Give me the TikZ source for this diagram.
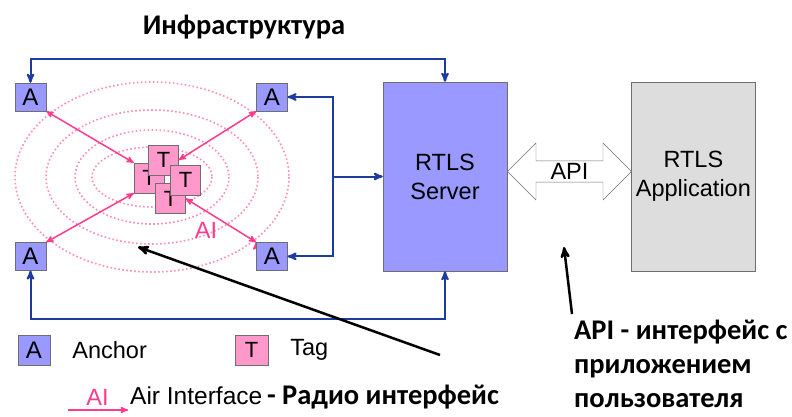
\documentclass[tikz,border=0pt]{standalone}
\usepackage{fontspec}
\setmainfont{Liberation Sans}
\newfontfamily\cyrb{Carlito}
\usetikzlibrary{arrows,shapes.arrows,positioning,backgrounds}

\definecolor{anchorblue}{HTML}{9999FF}
\definecolor{linkblue}{HTML}{1E3CA0}
\definecolor{tagpink}{HTML}{FF99CC}
\definecolor{airpink}{HTML}{FF3C8C}
\definecolor{ringpink}{HTML}{FF8CB4}
\definecolor{appgray}{HTML}{DDDDDD}
\definecolor{edgegray}{HTML}{6E6E6E}

\tikzset{
	anc/.style={draw=edgegray, fill=anchorblue, minimum width=31pt, minimum height=28pt, inner sep=0pt, font=\fontsize{24}{24}\selectfont},
	tg/.style={draw=edgegray, fill=tagpink, minimum size=30pt, inner sep=0pt, font=\fontsize{22}{22}\selectfont},
	box/.style={draw=edgegray, minimum width=124pt, minimum height=189pt, align=center, font=\fontsize{23.5}{29}\selectfont},
	apiarr/.style={double arrow, draw=edgegray, fill=white, minimum height=124pt, minimum width=57pt, double arrow head extend=14pt, inner sep=0pt, font=\fontsize{23.5}{23.5}\selectfont},
	txt/.style={inner sep=0pt, font=\fontsize{23.5}{23.5}\selectfont},
	bnote/.style={inner sep=0pt, font=\cyrb\bfseries\fontsize{28.5}{34}\selectfont},
	link/.style={draw=linkblue, line width=2pt},
	air/.style={draw=airpink, line width=1.5pt},
	ring/.style={draw=ringpink, line width=1.6pt, dash pattern=on 1.6pt off 2.4pt},
	pointer/.style={draw=black, line width=2.5pt, ->},
}

\begin{document}
\begin{tikzpicture}[x=1pt,y=-1pt,>=stealth']
	\useasboundingbox (0,0) rectangle (792,417);

	% anchors
	\node[anc]	(anTL)	at (30.5,97)		{A};
	\node[anc]	(anTR)	[right=210pt of anTL]	{A};
	\node[anc]	(anBL)	[below=131pt of anTL]	{A};
	\node[anc]	(anBR)	[right=210pt of anBL]	{A};

	% tags
	\node[tg]	(tgL)	at (149,178)		{T};
	\node[tg]	(tgT)	at (163.5,160)		{T};
	\node[tg]	(tgB)	at (170.5,198.5)	{T};
	\node[tg]	(tgR)	at (185.5,180)		{T};

	\begin{scope}[on background layer]
		\foreach \rx/\ry in {137/95,106/67,77/47,60/30}
			\draw[ring] (152,177) ellipse [x radius=\rx, y radius=\ry];
		\path[air,<->]
		(anTL.south east)	edge	(tgL.north west)
		(anBL.north east)	edge	(tgL.south west)
		(anTR.south west)	edge	(tgT.east)
		(anBR.north west)	edge	(tgB.east)
		;
	\end{scope}
	\node[txt, text=airpink]	(aiLbl)	at (206,230)	{AI};

	% server, api, application
	\node[box, fill=anchorblue]	(srv)	at (445,176.5)		{RTLS\\Server};
	\node[box, fill=appgray]	(appl)	[right=124pt of srv]	{RTLS\\Application};
	\node[apiarr]	(api)	[right=0pt of srv, yshift=5pt]	{API};

	% wiring
	\coordinate[left=50pt of srv.west] (hub);
	\draw[link,<->] (anTL.north) -- ++(0,-24) -| (srv.north);
	\draw[link,<->] (anBL.south) -- ++(0,48) -| (srv.south);
	\draw[link,->] (hub) -- (srv.west);
	\draw[link,->] (hub) |- (anTR.east);
	\draw[link,->] (hub) |- (anBR.east);

	\node[bnote]	(infra)	at (244,27)	{Инфраструктура};

	% legend
	\node[anc, minimum width=32pt, minimum height=30pt]	(lgA)	at (34,350)	{A};
	\node[txt]	(lgAtx)	[right=22pt of lgA]	{Anchor};
	\node[tg, minimum width=33pt]	(lgT)	at (251.5,350)	{T};
	\node[txt]	(lgTtx)	[right=22pt of lgT]	{Tag};
	\node[txt, text=airpink]	(lgAI)	at (97.5,397)	{AI};
	\coordinate (lgArrL) at (68,410);
	\coordinate (lgArrR) at (128,410);
	\draw[air,->] (lgArrL) -- (lgArrR);
	\node[txt, anchor=west, font=\fontsize{24.5}{24.5}\selectfont]	(lgAItx)	at (130,397)	{Air Interface{\cyrb\bfseries\fontsize{28.5}{28.5}\selectfont\,- Радио интерфейс}};

	% notes
	\node[bnote, anchor=north west, align=left]	(apiTx)	at (574,320)	{API - интерфейс с\\приложением\\пользователя};
	\coordinate (aiTail) at (440,355);
	\coordinate (aiTip) at (138,247);
	\draw[pointer] (aiTail) -- (aiTip);
	\coordinate (apiTail) at (572,314);
	\coordinate (apiTip) at (564,247);
	\draw[pointer] (apiTail) -- (apiTip);
\end{tikzpicture}
\end{document}
